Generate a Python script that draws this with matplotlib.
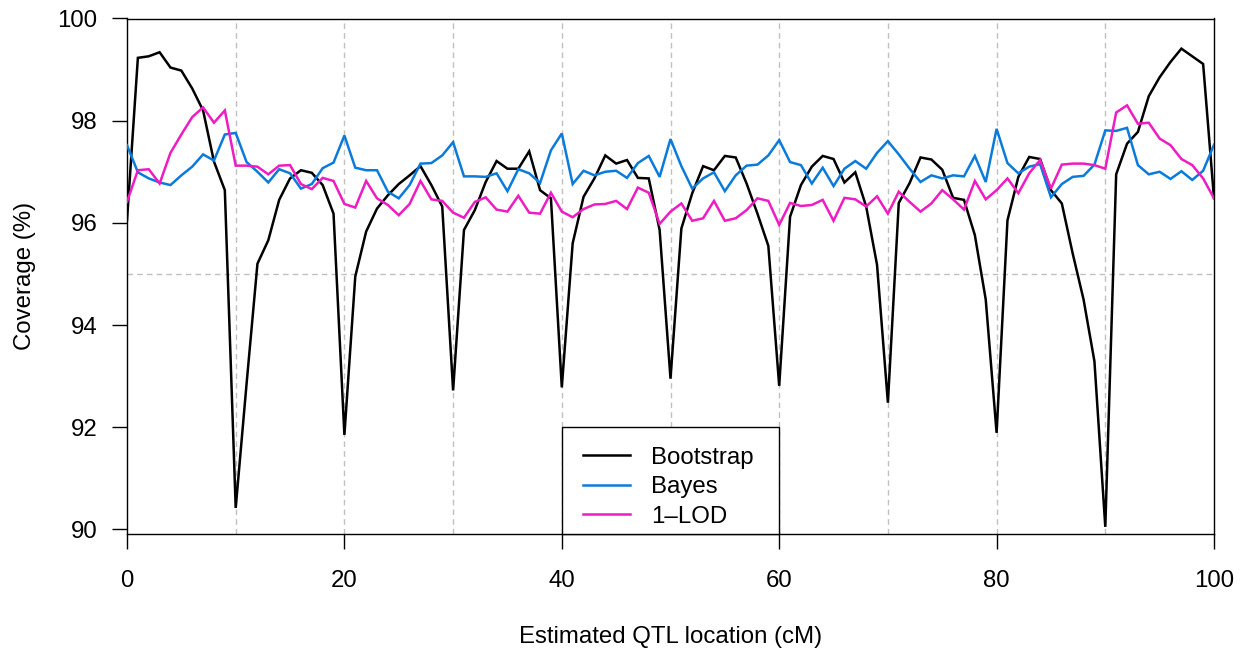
import matplotlib
matplotlib.use("Agg")
import matplotlib.pyplot as plt
from matplotlib.patches import Rectangle
import numpy as np

plt.rcParams['font.family'] = ['Liberation Sans', 'DejaVu Sans']

# ---- data ----
positions = list(range(0, 101))

bootstrap = [96.05, 99.23, 99.26, 99.34, 99.04, 98.98, 98.63, 98.20, 97.20, 96.64,
             90.42, 92.85, 95.20, 95.66, 96.45, 96.87, 97.03, 96.98, 96.74, 96.18,
             91.85, 94.95, 95.83, 96.28, 96.54, 96.76, 96.93, 97.11, 96.74, 96.32,
             92.72, 95.86, 96.25, 96.80, 97.21, 97.06, 97.06, 97.40, 96.64, 96.48,
             92.78, 95.60, 96.51, 96.87, 97.32, 97.16, 97.23, 96.88, 96.87, 95.86,
             92.95, 95.89, 96.58, 97.11, 97.03, 97.31, 97.28, 96.77, 96.18, 95.55,
             92.81, 96.12, 96.74, 97.10, 97.31, 97.25, 96.79, 96.99, 96.32, 95.18,
             92.48, 96.39, 96.78, 97.28, 97.24, 97.04, 96.49, 96.45, 95.76, 94.50,
             91.89, 96.05, 96.90, 97.29, 97.25, 96.64, 96.38, 95.40, 94.50, 93.29,
             90.05, 96.95, 97.55, 97.78, 98.48, 98.85, 99.15, 99.41, 99.26, 99.11,
             96.48]

bayes = [97.52, 96.99, 96.87, 96.79, 96.74, 96.93, 97.10, 97.34, 97.22, 97.73,
         97.76, 97.19, 97.00, 96.79, 97.05, 96.97, 96.67, 96.76, 97.07, 97.18,
         97.71, 97.08, 97.03, 97.03, 96.61, 96.48, 96.74, 97.16, 97.17, 97.32,
         97.58, 96.91, 96.91, 96.90, 96.97, 96.62, 97.05, 96.97, 96.78, 97.42,
         97.75, 96.76, 97.02, 96.93, 97.00, 97.02, 96.88, 97.17, 97.31, 96.90,
         97.64, 97.11, 96.67, 96.87, 96.99, 96.62, 96.93, 97.12, 97.14, 97.32,
         97.62, 97.19, 97.13, 96.77, 97.08, 96.72, 97.06, 97.21, 97.06, 97.37,
         97.60, 97.34, 97.06, 96.80, 96.93, 96.87, 96.93, 96.91, 97.31, 96.80,
         97.84, 97.17, 96.97, 97.10, 97.15, 96.50, 96.76, 96.90, 96.92, 97.14,
         97.81, 97.80, 97.86, 97.13, 96.95, 97.00, 96.86, 97.01, 96.84, 97.02,
         97.53]

lod1 = [96.41, 97.03, 97.05, 96.77, 97.37, 97.73, 98.07, 98.26, 97.96, 98.20,
        97.12, 97.12, 97.10, 96.95, 97.12, 97.13, 96.76, 96.66, 96.88, 96.82,
        96.37, 96.30, 96.82, 96.48, 96.35, 96.15, 96.37, 96.82, 96.46, 96.43,
        96.20, 96.10, 96.41, 96.50, 96.26, 96.22, 96.53, 96.20, 96.18, 96.59,
        96.22, 96.11, 96.27, 96.36, 96.37, 96.43, 96.27, 96.69, 96.59, 95.98,
        96.22, 96.38, 96.04, 96.09, 96.43, 96.04, 96.09, 96.25, 96.48, 96.43,
        95.96, 96.39, 96.33, 96.35, 96.45, 96.04, 96.49, 96.46, 96.32, 96.52,
        96.18, 96.61, 96.41, 96.22, 96.38, 96.64, 96.46, 96.26, 96.82, 96.46,
        96.64, 96.87, 96.58, 96.97, 97.23, 96.67, 97.14, 97.16, 97.16, 97.13,
        97.06, 98.16, 98.30, 97.94, 97.96, 97.65, 97.52, 97.25, 97.13, 96.87,
        96.48]

series_names = ["Bootstrap", "Bayes", "1\u2013LOD"]
series_colors = ["black", "#0a7bdb", "#ee1cc2"]

x_ticks = [0, 20, 40, 60, 80, 100]
y_ticks = [90, 92, 94, 96, 98, 100]
grid_x = [10, 20, 30, 40, 50, 60, 70, 80, 90]
grid_y = [95]

# ---- figure ----
W, H = 1243, 654
fig = plt.figure(figsize=(W / 100, H / 100), dpi=100)
left, right, top, bottom = 127, 1214, 18.5, 534
aw, ah = right - left, bottom - top
ax = fig.add_axes([left / W, (H - bottom) / H, aw / W, ah / H])


def ax_x(px):
    return (px - left) / aw


def ax_y(py):
    return (bottom - py) / ah


ymin = 89.91
ax.set_xlim(0, 100)
ax.set_ylim(ymin, 100)

grid_kw = dict(color="#c0c0c0", linewidth=1.0, linestyle=(0, (4, 3)), zorder=1)
ax.vlines(grid_x, ymin, 100, **grid_kw)
ax.hlines(grid_y, 0, 100, **grid_kw)

lw = 1.8
for vals, name, col in zip([bootstrap, bayes, lod1], series_names, series_colors):
    ax.plot(positions, vals, color=col, linewidth=lw, label=name, zorder=3,
            solid_joinstyle="miter")

fs = 17.3
ax.set_xticks(x_ticks)
ax.set_yticks(y_ticks)
ax.set_xticklabels([str(t) for t in x_ticks])
ax.set_yticklabels([str(t) for t in y_ticks])
ax.tick_params(axis="both", direction="out", length=10.8, width=1.0, labelsize=fs, colors="black")
ax.tick_params(axis="x", pad=15)
ax.tick_params(axis="y", pad=10.5)

for sp in ax.spines.values():
    sp.set_linewidth(1.0)
    sp.set_color("black")

ax.set_xlabel("Estimated QTL location (cM)", fontsize=fs)
ax.set_ylabel("Coverage (%)", fontsize=fs)
ax.xaxis.label.set_va("center")
ax.yaxis.label.set_va("center")
ax.xaxis.set_label_coords(0.5, ax_y(637))
ax.yaxis.set_label_coords(ax_x(25), 0.5)

# legend box (frame drawn separately, R style)
box_l, box_r, box_t, box_b = 561.7, 779.3, 426.7, 534
ax.add_patch(Rectangle((ax_x(box_l), ax_y(box_b)), ax_x(box_r) - ax_x(box_l),
                       ax_y(box_t) - ax_y(box_b), transform=ax.transAxes,
                       facecolor="white", edgecolor="black", linewidth=1.0,
                       zorder=4, clip_on=False))
leg = ax.legend(loc="center left",
                bbox_to_anchor=(ax_x(583), ax_y(487.3)),
                fontsize=fs, frameon=False, borderaxespad=0, borderpad=0,
                handlelength=1.96, handletextpad=0.87, labelspacing=0.31)
leg.set_zorder(5)
for line in leg.get_lines():
    line.set_linewidth(lw)

fig.savefig("out.png", dpi=100)
